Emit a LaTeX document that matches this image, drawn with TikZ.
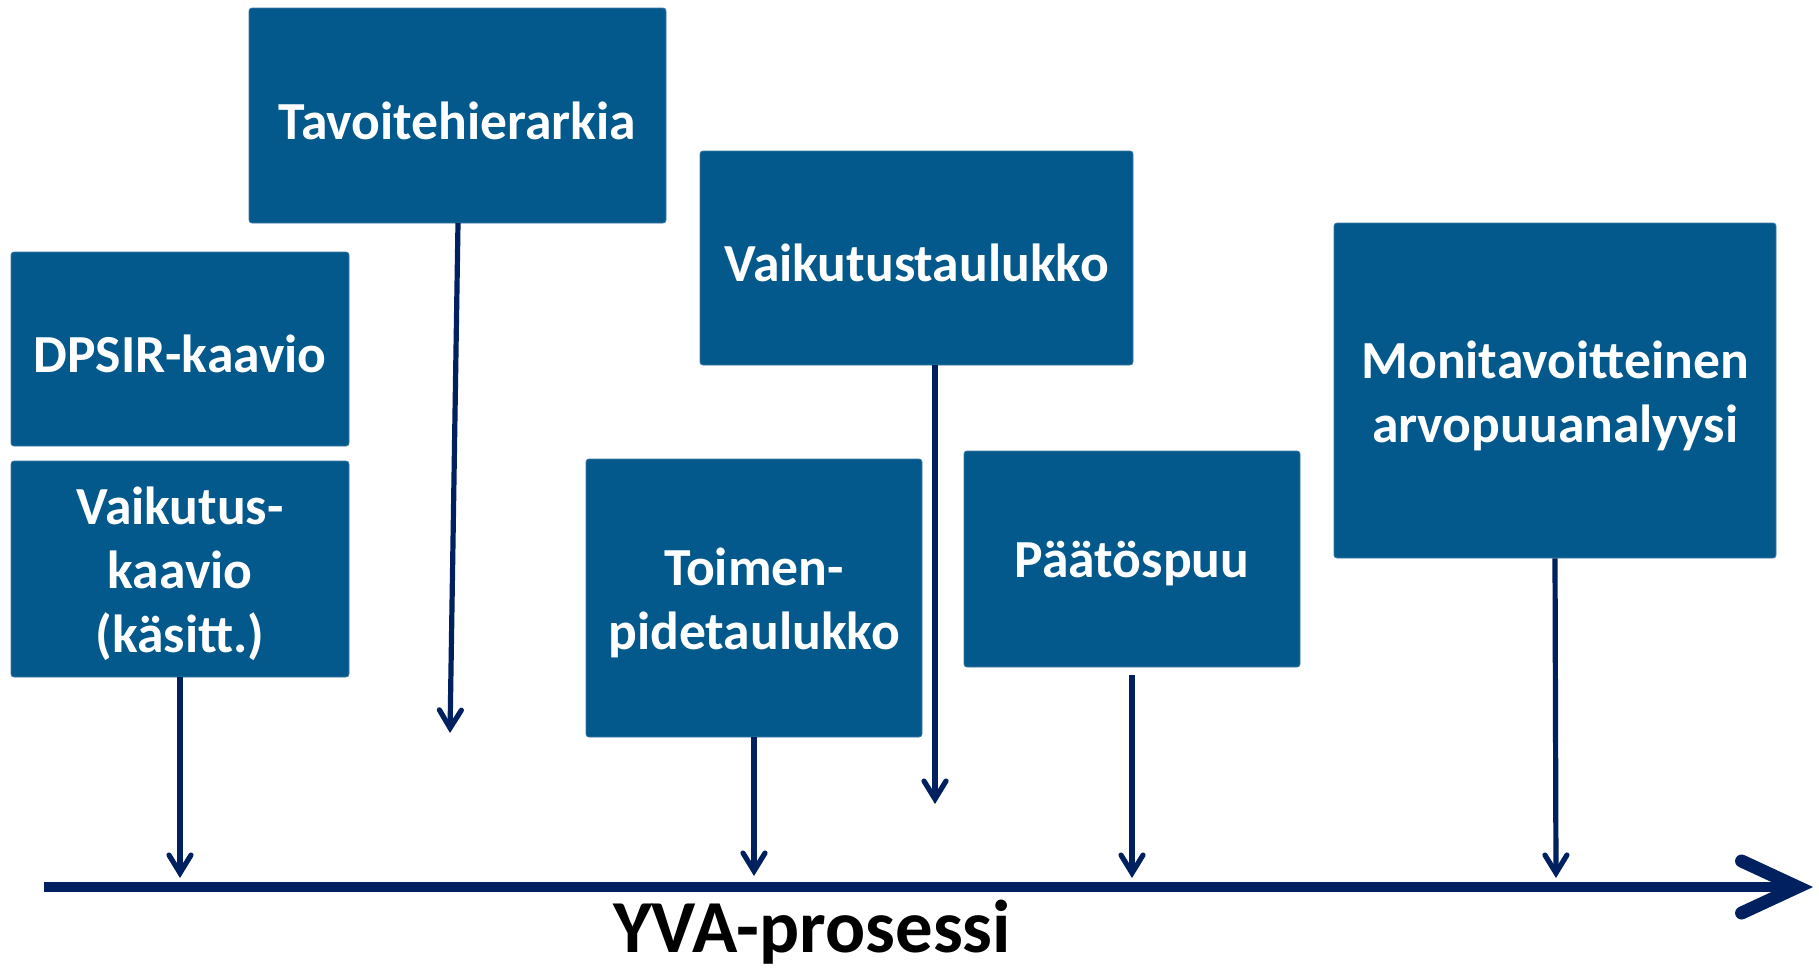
\documentclass[tikz,border=0pt]{standalone}
\usepackage{fontspec}
\setmainfont{Carlito}
\usetikzlibrary{arrows.meta}
\definecolor{boxblue}{RGB}{3,88,140}
\definecolor{boxedge}{RGB}{60,120,165}
\definecolor{navy}{RGB}{0,32,96}
\tikzset{
  box/.style={fill=boxblue, draw=boxedge, line width=0.4pt, rounded corners=1.5pt, inner sep=0pt},
  lbl/.style={text=white, font=\fontsize{26.8}{32}\selectfont\bfseries, align=center, inner sep=0pt, yshift=-2.5pt},
  conn/.style={draw=navy, line width=2.6pt, -{Straight Barb[length=9pt,width=11pt,line width=2.6pt,line cap=round]}},
  axis/.style={draw=navy, line width=5pt, -{Straight Barb[length=28pt,width=26pt,line width=6.5pt,line cap=round]}}
}
\begin{document}
\begin{tikzpicture}[x=0.5pt,y=-0.5pt]
\useasboundingbox (0,0) rectangle (1819,970);
\node[box, minimum width=208.5pt, minimum height=107.5pt, label={[lbl]center:Tavoitehierarkia}] (tav) at (457.5,115.5) {};
\node[box, minimum width=169pt, minimum height=97pt, label={[lbl]center:DPSIR-kaavio}] (dpsir) at (180,349) {};
\node[box, minimum width=169pt, minimum height=108pt, label={[lbl]center:{Vaikutus-\\kaavio\\(käsitt.)}}] (vkaa) at (180,569) {};
\node[box, minimum width=216.5pt, minimum height=107pt, label={[lbl]center:Vaikutustaulukko}] (vtau) at (916.5,258) {};
\node[box, minimum width=168pt, minimum height=139pt, label={[lbl]center:{Toimen-\\pidetaulukko}}] (toim) at (754,598) {};
\node[box, minimum width=168pt, minimum height=108pt, label={[lbl]center:Päätöspuu}] (paat) at (1132,559) {};
\node[box, minimum width=221pt, minimum height=167.5pt, label={[lbl]center:{Monitavoitteinen\\arvopuuanalyysi}}] (moni) at (1555,390.5) {};

\coordinate (a0) at (44,887);
\coordinate (a1) at (1813,887);
\draw[axis] (a0) -- (a1);

\coordinate (e1) at (180,878);
\coordinate (t0) at (458,223);
\coordinate (e2) at (450,733);
\coordinate (e3) at (754,876);
\coordinate (e4) at (935,804);
\coordinate (p0) at (1132,675);
\coordinate (e5) at (1132,878);
\coordinate (e6) at (1556,878);

\draw[conn] (vkaa.south) -- (e1);
\draw[conn] (t0) -- (e2);
\draw[conn] (toim.south) -- (e3);
\draw[conn] (vtau.south -| e4) -- (e4);
\draw[conn] (p0) -- (e5);
\draw[conn] (moni.south) -- (e6);

\node[font=\fontsize{37.4}{44}\selectfont\bfseries, anchor=base, inner sep=0pt] (yva) at (812,952) {YVA-prosessi};
\end{tikzpicture}
\end{document}
